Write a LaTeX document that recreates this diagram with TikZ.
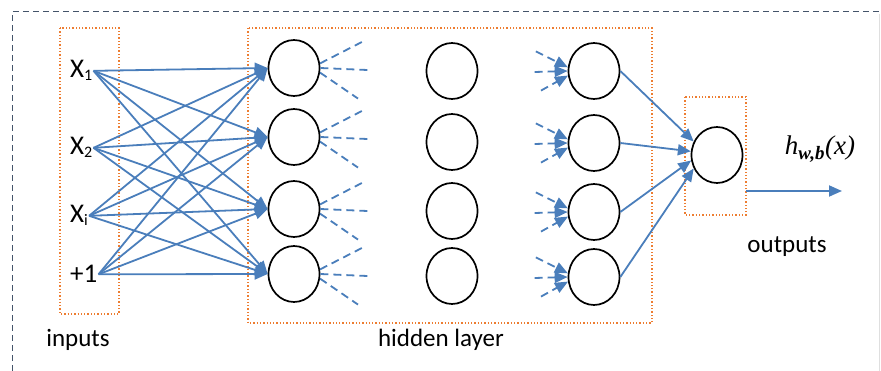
\documentclass[tikz,border=0pt]{standalone}
\usepackage{fontspec}
\setmainfont{Carlito}
\newfontfamily\hfont{Liberation Serif}
\usetikzlibrary{arrows.meta,shapes.geometric}
\definecolor{netblue}{HTML}{4A7EBB}
\definecolor{boxorange}{HTML}{ED7D31}
\definecolor{framegray}{HTML}{44546A}
\newcommand{\lowsub}[1]{\raisebox{-3pt}{\fontsize{16}{16}\selectfont #1}}
\begin{document}
\begin{tikzpicture}[x=1pt,y=-1pt,
		neuron/.style={ellipse,draw=black,line width=1.7pt,minimum width=51pt,minimum height=56pt,inner sep=0pt},
		link/.style={draw=netblue,line width=1.8pt,-{Triangle[length=13pt,width=11pt]}},
		stub/.style={draw=netblue,line width=1.8pt,dash pattern=on 8pt off 5pt},
		layerbox/.style={draw=boxorange,line width=1.3pt,dotted},
		inlbl/.style={font=\fontsize{27}{30}\selectfont,anchor=base west,inner sep=1pt},
		lbl/.style={font=\fontsize{25}{30}\selectfont,anchor=base}]
	\useasboundingbox (0,0) rectangle (881,371);
	\draw[framegray,line width=1pt,dash pattern=on 6pt off 4pt] (12,371) -- (12,12) -- (881,12);
	\draw[gray!25,line width=0.6pt] (879,14) -- (879,371);
	\draw[layerbox] (60,28) rectangle (119,314);
	\draw[layerbox] (248,28) rectangle (652,323);
	\draw[layerbox] (685,97) rectangle (746,215);
	\foreach \n/\t/\y in {x1/X\lowsub{1}/78, x2/X\lowsub{2}/155, xi/X\lowsub{i}/223, one/+1/283}
		\node[inlbl] (\n) at (69,\y) {\t};
	\foreach \j/\y in {1/68, 2/137, 3/209, 4/274}
		\node[neuron] (h1\j) at (294,\y) {};
	\foreach \j/\y in {1/71, 2/142, 3/211, 4/276}
		\node[neuron] (h2\j) at (452,\y) {};
	\foreach \j/\y in {1/71, 2/143, 3/212, 4/277}
		\node[neuron] (h3\j) at (594,\y) {};
	\node[neuron] (out) at (717,155) {};
	\foreach \n in {x1, x2, xi, one}
		\foreach \j in {1, ..., 4}
			\draw[link] (\n.east) -- (h1\j.west);
	\foreach \j in {1, ..., 4}
	{
		\draw[stub] (h1\j.10) -- ++(45,-23);
		\draw[stub] (h1\j.east) -- ++(47,2);
		\draw[stub] (h1\j.-10) -- ++(38,26);
		\draw[stub,-{Triangle[length=13pt,width=11pt]}] (h3\j.172) ++(-32,-16) -- (h3\j.172);
		\draw[stub,-{Triangle[length=13pt,width=11pt]}] (h3\j.180) ++(-33,1) -- (h3\j.180);
		\draw[stub,-{Triangle[length=13pt,width=11pt]}] (h3\j.190) ++(-27,15) -- (h3\j.190);
	}
	\foreach \j/\a in {1/150, 2/172, 3/192, 4/210}
		\draw[link] (h3\j.east) -- (out.\a);
	\coordinate (ostart) at (746,191);
	\coordinate (oend) at (842,191);
	\draw[link] (ostart) -- (oend);
	\node[anchor=base,inner sep=0pt,font=\hfont\fontsize{27}{30}\selectfont\itshape] (hwb) at (820,155) {h\textsubscript{\bfseries w,b}(x)};
	\node[lbl] (inputs) at (78,347) {inputs};
	\node[lbl] (hidden) at (441,347) {hidden layer};
	\node[lbl] (outputs) at (787,253) {outputs};
\end{tikzpicture}
\end{document}
